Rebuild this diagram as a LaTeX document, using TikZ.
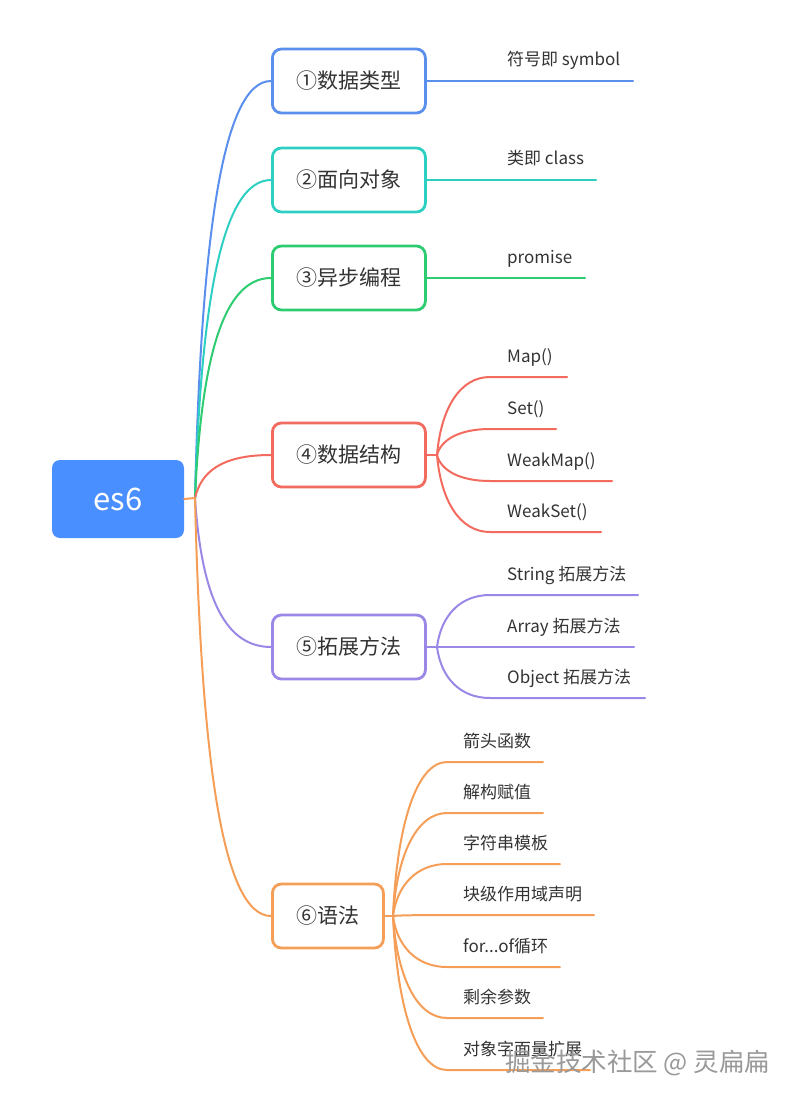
\documentclass[tikz,border=0pt]{standalone}
\usepackage{fontspec}
\setmainfont{Noto Sans CJK SC}
\usetikzlibrary{positioning, calc}
\definecolor{rootblue}{HTML}{4A8FFF}
\definecolor{cblue}{HTML}{5A8FEE}
\definecolor{cteal}{HTML}{2DCFC3}
\definecolor{cgreen}{HTML}{2ECC71}
\definecolor{cred}{HTML}{F26B5E}
\definecolor{cpurple}{HTML}{9B88E6}
\definecolor{corange}{HTML}{F59E58}
\definecolor{ink}{HTML}{333333}
\newcommand{\forofloop}{for...of循环}
\tikzset{
  rootbox/.style={fill=rootblue, rounded corners=8pt, minimum width=132pt, minimum height=78pt, text=white, font=\fontsize{31}{34}\selectfont},
  topicbox/.style={draw=#1, line width=2.8pt, rounded corners=9pt, fill=white, minimum width=153pt, minimum height=64pt, text=ink, font=\fontsize{21}{24}\selectfont},
  leaf/.style={anchor=base west, inner sep=0pt, text=ink, font=\fontsize{17}{20}\selectfont},
  link/.style={draw=#1, line width=2pt, line cap=round},
}

\begin{document}
\begin{tikzpicture}[x=1pt, y=-1pt]
    % Cornice
    \useasboundingbox (0,0) rectangle (792,1102);
    % Radice
    \node[rootbox] (es6) at (118,499) {es6};
    \coordinate (hub) at (195,498);
    % Rami principali
    \node[topicbox=cblue, anchor=west] (t1) at (271,81) {①数据类型};
    \node[topicbox=cteal, anchor=west] (t2) at (271,180) {②面向对象};
    \node[topicbox=cgreen, anchor=west] (t3) at (271,278) {③异步编程};
    \node[topicbox=cred, anchor=west] (t4) at (271,455) {④数据结构};
    \node[topicbox=cpurple, anchor=west] (t5) at (271,647) {⑤拓展方法};
    \node[topicbox=corange, anchor=west, minimum width=111pt] (t6) at (271,916) {⑥语法};
    \foreach \t/\c in {t1/cblue, t2/cteal, t3/cgreen, t4/cred, t5/cpurple, t6/corange}
        \draw[link=\c] (hub) .. controls ($(hub)!0.6!(hub|-\t.west)+(6,0)$) and ($(\t.west)+(-50,0)$) .. (\t.west);
    \draw[link=corange] (es6.east) -- (hub);
    % Foglie semplici
    \node[leaf] (l1) at (507,66) {符号即 symbol};
    \coordinate (e1) at (633,81);
    \draw[link=cblue] (t1.east) -- (e1);
    \node[leaf] (l2) at (507,165) {类即 class};
    \coordinate (e2) at (596,180);
    \draw[link=cteal] (t2.east) -- (e2);
    \node[leaf] (l3) at (507,263) {promise};
    \coordinate (e3) at (585,278);
    \draw[link=cgreen] (t3.east) -- (e3);
    % Foglie di ④
    \coordinate (b4) at (437,455);
    \draw[link=cred] (t4.east) -- (b4);
    \foreach \i/\y/\x/\txt in {1/377/567/Map(), 2/429/556/Set(), 3/481/612/WeakMap(), 4/532/601/WeakSet()} {
        \node[leaf] (l4\i) at (507,\y-15) {\txt};
        \coordinate (s4\i) at (490,\y);
        \coordinate (e4\i) at (\x,\y);
        \draw[link=cred] (b4) .. controls ($(b4)!0.6!(b4|-s4\i)+(4,0)$) and ($(s4\i)+(-30,0)$) .. (s4\i) -- (e4\i);
    }
    % Foglie di ⑤
    \coordinate (b5) at (437,647);
    \draw[link=cpurple] (t5.east) -- (b5);
    \foreach \i/\y/\x/\txt in {1/595/638/String 拓展方法, 2/647/634/Array 拓展方法, 3/698/645/Object 拓展方法} {
        \node[leaf] (l5\i) at (507,\y-15) {\txt};
        \coordinate (s5\i) at (490,\y);
        \coordinate (e5\i) at (\x,\y);
        \draw[link=cpurple] (b5) .. controls ($(b5)!0.6!(b5|-s5\i)+(4,0)$) and ($(s5\i)+(-30,0)$) .. (s5\i) -- (e5\i);
    }
    % Foglie di ⑥
    \coordinate (b6) at (393,916);
    \draw[link=corange] (t6.east) -- (b6);
    \foreach \i/\y/\x/\txt in {1/762/543/箭头函数, 2/813/543/解构赋值, 3/864/560/字符串模板, 4/915/594/块级作用域声明, 5/967/560/\forofloop, 6/1018/543/剩余参数, 7/1070/590/对象字面量扩展} {
        \node[leaf] (l6\i) at (463,\y-15) {\txt};
        \coordinate (s6\i) at (447,\y);
        \coordinate (e6\i) at (\x,\y);
        \draw[link=corange] (b6) .. controls ($(b6)!0.6!(b6|-s6\i)+(4,0)$) and ($(s6\i)+(-30,0)$) .. (s6\i) -- (e6\i);
    }
    % Filigrana
    \node[anchor=base west, inner sep=0pt, text=gray!80, font=\fontsize{25.5}{28}\selectfont] (mark) at (505,1071) {掘金技术社区 @ 灵扁扁};
\end{tikzpicture}
\end{document}
